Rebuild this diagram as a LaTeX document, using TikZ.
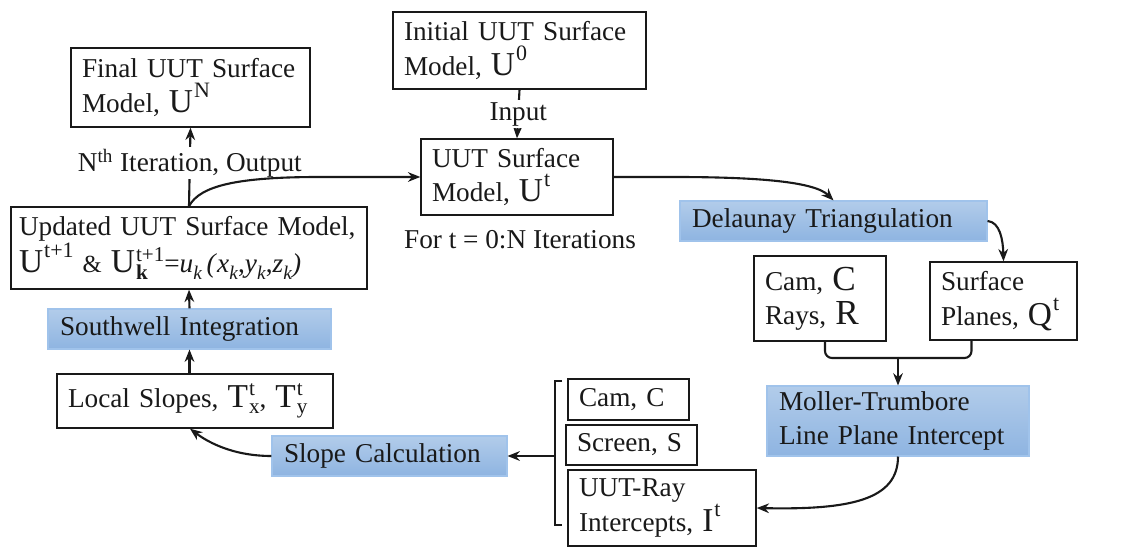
\documentclass[tikz,border=0pt]{standalone}
\usepackage{fontspec}
\setmainfont{Liberation Serif}
\usetikzlibrary{arrows.meta,calc}
\definecolor{bluetop}{RGB}{178,204,234}
\definecolor{bluebot}{RGB}{142,180,225}
\definecolor{blueedge}{RGB}{160,195,235}
\definecolor{ink}{RGB}{25,25,25}
\newlength{\SyW}
\newcommand{\smallsz}{\fontsize{12}{12}\selectfont}
\newcommand{\Sy}[3]{{\fontsize{19}{19}\selectfont #1}\kern0.6pt{\smallsz\setbox0=\hbox{#2}\setbox2=\hbox{#3}\setlength{\SyW}{\wd0}\ifdim\wd2>\SyW\setlength{\SyW}{\wd2}\fi\rlap{\raisebox{0.55em}{\copy0}}\rlap{\raisebox{-0.3em}{\copy2}}\hspace{\SyW}}}
\newcommand{\Sp}[2]{{\fontsize{19}{19}\selectfont #1}\kern0.6pt\raisebox{0.55em}{\fontsize{12.5}{12.5}\selectfont #2}}
\newcommand{\Sk}[1]{#1\raisebox{-0.25em}{\fontsize{11}{11}\selectfont\textit{k}}}
\tikzset{
  box/.style 2 args={draw=ink, line width=0.8pt, fill=white, inner xsep=11*0.02cm, inner ysep=0pt,
    text width=(#1-22)*0.02cm, minimum height=#2*0.02cm, align=left, font=\fontsize{15.5}{19.5}\selectfont, text=ink},
  bluebox/.style 2 args={draw=blueedge, line width=0.6pt, top color=bluetop, bottom color=bluebot, inner xsep=12*0.02cm, inner ysep=0pt,
    text width=(#1-24)*0.02cm, minimum height=#2*0.02cm, align=left, font=\fontsize{15.5}{19.5}\selectfont, text=ink},
  conn/.style={line width=1.2pt, draw=ink},
  arr/.style={conn, -{Stealth[length=7pt,width=5.5pt]}},
  lbl/.style={font=\fontsize{15.5}{18}\selectfont, text=ink, fill=white, inner sep=1pt}
}
\begin{document}
\begin{tikzpicture}[x=0.02cm,y=-0.02cm]
\useasboundingbox (0,0) rectangle (1143,550);
% nodes
\node[box={239}{79}] (final) at (190.5,87.5) {Final UUT Surface\\Model, \Sp{U}{N}};
\node[box={253}{77}] (initial) at (519.5,50.5) {Initial UUT Surface\\Model, \Sp{U}{0}};
\node[box={192}{76}] (uut) at (517,177) {UUT Surface\\Model, \Sp{U}{t}};
\node[box={356}{82}, inner xsep=8*0.02cm, text width=340*0.02cm] (updated) at (189,248) {Updated UUT Surface Model,\\\Sp{U}{t+1} {\fontsize{14}{14}\selectfont\&} \Sy{U}{t+1}{\textbf{k}}=\Sk{\textit{u}}\,\textit{(}\Sk{\textit{x}},\Sk{\textit{y}},\Sk{\textit{z}}\textit{)}};
\node[bluebox={283}{40}] (southwell) at (189.5,329) {Southwell Integration};
\node[box={276}{54}] (local) at (195,401) {Local Slopes, \Sy{T}{t}{x}, \Sy{T}{t}{y}};
\node[bluebox={235}{40}] (slope) at (389.5,456) {Slope Calculation};
\node[box={121}{41}] (cam) at (628.5,399.5) {Cam, C};
\node[box={131}{40}] (screen) at (631.5,445) {Screen, S};
\node[box={188}{76}] (uutray) at (662,508) {UUT-Ray\\Intercepts, \Sp{I}{t}};
\node[bluebox={307}{40}] (delaunay) at (833.5,221) {Delaunay Triangulation};
\node[box={132}{85}] (camrays) at (820,298.5) {Cam, {\fontsize{20}{20}\selectfont C}\\Rays, {\fontsize{20}{20}\selectfont R}};
\node[box={147}{78}] (surface) at (1003.5,301) {Surface\\Planes, \Sp{Q}{t}};
\node[bluebox={262}{70}] (moller) at (898,421) {Moller-Trumbore\\Line Plane Intercept};
\node[lbl] (forlbl) at (520,240) {For t = 0:N Iterations};
% coordinates
\coordinate (merge) at (898,358);
\coordinate (brtop) at (562,381);
\coordinate (brbot) at (562,525);
\coordinate (brmid) at (555,456);
\coordinate (ltop) at (320,177);
% connectors
\draw[arr] (initial.south) -- (uut.north) node[lbl, midway] (input) {Input};
\draw[arr] (uut.east) -- ++(60,0) .. controls (760,177) and (815,182) .. (delaunay.north);
\draw[arr] (delaunay.east) .. controls (1000,222) and (1003,240) .. (surface.north);
\draw[conn, rounded corners=4pt] ([xshift=0.1cm]camrays.south) |- (merge);
\draw[conn, rounded corners=4pt] ([xshift=-0.64cm]surface.south) |- (merge);
\draw[arr] (merge) -- (moller.north);
\draw[arr] (moller.south) .. controls (898,500) and (850,510) .. (uutray.east);
\draw[conn, line width=0.9pt] (brtop) -- (brtop -| brmid) -- (brbot -| brmid) -- (brbot);
\draw[arr] (brmid) -- (slope.east);
\draw[arr] (slope.west) .. controls (230,456) and (205,440) .. ([xshift=-0.1cm]local.south);
\draw[arr] (southwell.south |- local.north) -- (southwell.south);
\draw[arr] (southwell.north) -- (updated.south);
\draw[arr] (updated.north) -- (final.south) node[lbl, pos=0.55] (nth) {N\textsuperscript{th} Iteration, Output};
\draw[arr] (updated.north) .. controls (200,185) and (240,177) .. (ltop) -- (uut.west);
\end{tikzpicture}
\end{document}
